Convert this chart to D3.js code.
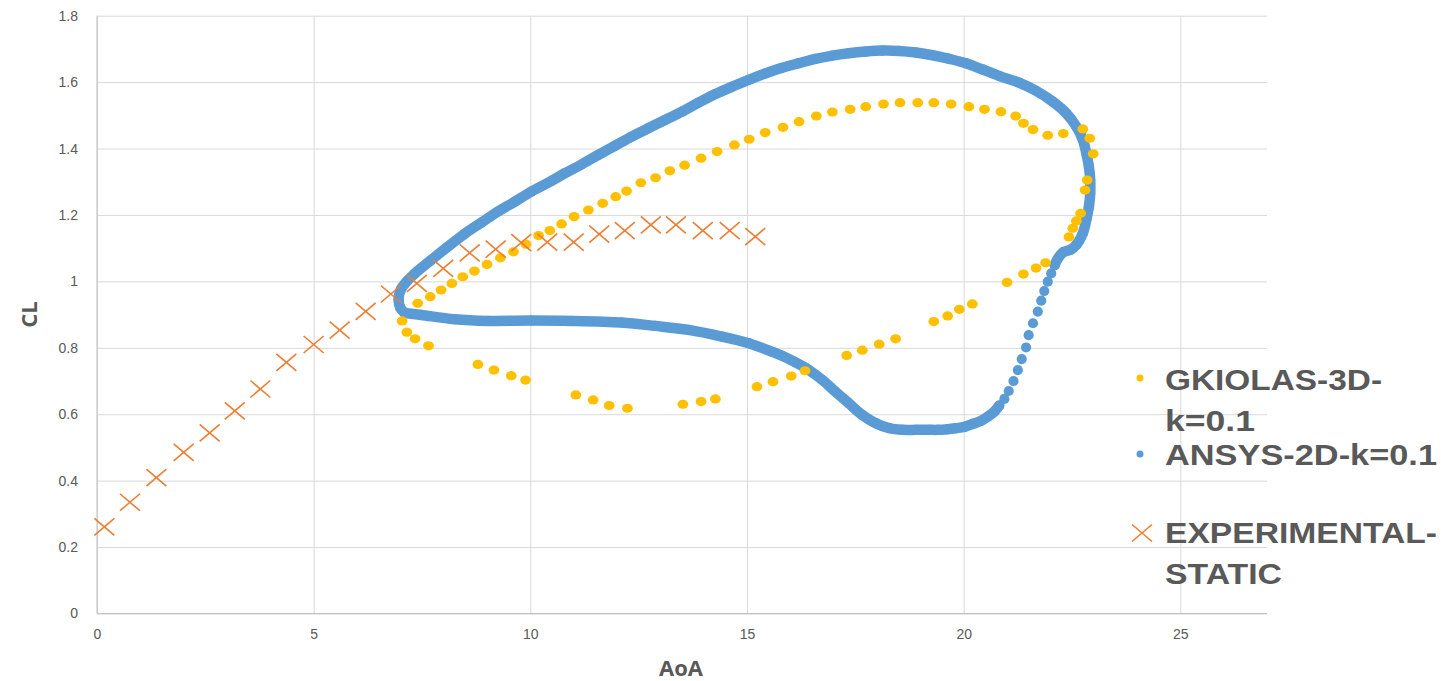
<!DOCTYPE html>
<html>
<head>
<meta charset="utf-8">
<script src="https://cdn.jsdelivr.net/npm/d3@7"></script>
<style>
  html, body { margin: 0; padding: 0; background: #fff; }
  svg { display: block; font-family: "Open Sans", "Liberation Sans", sans-serif; }
</style>
</head>
<body>
<svg id="chart" width="1455" height="681"></svg>
<script>
// GKIOLAS-3D-k=0.1 (AoA, CL), loop order
const gkiolas = [
  [7.40,0.934],[7.69,0.954],[7.94,0.974],[8.19,0.994],[8.44,1.014],[8.71,1.031],[9.00,1.051],[9.31,1.071],
  [9.61,1.089],[9.90,1.112],[10.19,1.138],[10.45,1.153],[10.72,1.173],[11.01,1.195],[11.34,1.215],[11.67,1.235],
  [11.97,1.255],[12.22,1.272],[12.55,1.297],[12.89,1.312],[13.22,1.333],[13.56,1.350],[13.94,1.371],[14.31,1.391],
  [14.71,1.411],[15.05,1.428],[15.42,1.448],[15.83,1.464],[16.20,1.481],[16.60,1.498],[16.97,1.510],[17.38,1.518],
  [17.74,1.526],[18.15,1.534],[18.53,1.538],[18.94,1.538],[19.31,1.538],[19.71,1.534],[20.12,1.526],[20.48,1.518],
  [20.86,1.511],[21.20,1.498],[21.38,1.476],[21.60,1.457],[21.94,1.440],[22.30,1.445],[22.75,1.459],[22.91,1.431],
  [22.99,1.384],[22.85,1.305],[22.80,1.275],[22.70,1.205],[22.60,1.182],[22.52,1.160],[22.43,1.134],[21.89,1.056],
  [21.67,1.040],[21.38,1.022],[21.00,0.997],[20.20,0.932],[19.90,0.916],[19.63,0.896],[19.31,0.879],[18.43,0.827],
  [18.05,0.811],[17.66,0.793],[17.30,0.777],[16.34,0.731],[16.02,0.715],[15.60,0.698],[15.23,0.683],[14.27,0.646],
  [13.94,0.638],[13.52,0.630],[12.24,0.618],[11.82,0.626],[11.45,0.643],[11.05,0.658],[9.89,0.703],[9.56,0.716],
  [9.16,0.733],[8.79,0.750],[7.65,0.806],[7.34,0.827],[7.15,0.847],[7.04,0.881]
];

// ANSYS-2D-k=0.1, dense band over the top and round the right side
const ansysUpper = [
  [7.10,0.905],[7.00,0.920],[6.96,0.945],[7.01,0.975],[7.15,1.000],[7.32,1.022],[7.71,1.064],[8.09,1.104],
  [8.48,1.143],[8.87,1.177],[9.25,1.210],[9.64,1.240],[10.02,1.270],[10.41,1.297],[10.79,1.325],[11.18,1.352],
  [11.57,1.381],[11.95,1.408],[12.34,1.436],[12.72,1.461],[13.11,1.486],[13.50,1.511],[13.88,1.538],[14.27,1.564],
  [14.65,1.586],[15.04,1.607],[15.42,1.626],[15.81,1.643],[16.20,1.657],[16.58,1.670],[16.97,1.680],[17.35,1.687],
  [17.74,1.692],[18.12,1.695],[18.51,1.694],[18.90,1.689],[19.28,1.681],[19.67,1.670],[20.05,1.657],[20.44,1.638],
  [20.83,1.618],[21.29,1.598],[21.67,1.574],[22.06,1.541],[22.37,1.506],[22.60,1.466],[22.75,1.426],[22.83,1.386],
  [22.89,1.345],[22.92,1.305],[22.92,1.265],[22.89,1.225],[22.83,1.185],[22.75,1.145],[22.60,1.110],[22.46,1.095],
  [22.30,1.088],[22.18,1.070],[22.10,1.049]
];
// ANSYS, the separate dots falling down the right side
const ansysRise = [
  [22.02,1.024],[21.94,0.999],[21.86,0.971],[21.79,0.942],[21.71,0.909],[21.60,0.874],[21.50,0.838],[21.44,0.801],
  [21.34,0.766],[21.25,0.733],[21.15,0.700],[21.04,0.670],[20.94,0.646]
];
// ANSYS, dense band along the bottom back to the tip
const ansysLower = [
  [20.82,0.626],[20.71,0.608],[20.56,0.593],[20.40,0.580],[20.21,0.571],[20.02,0.562],[19.82,0.558],[19.63,0.555],
  [19.40,0.553],[19.21,0.553],[18.90,0.553],[18.59,0.553],[18.28,0.558],[17.97,0.573],[17.66,0.598],[17.35,0.633],
  [17.04,0.668],[16.74,0.703],[16.43,0.733],[16.12,0.756],[15.81,0.776],[15.58,0.788],[15.04,0.814],[14.42,0.834],
  [13.65,0.854],[12.88,0.866],[12.11,0.876],[10.95,0.881],[10.02,0.882],[9.02,0.881],[8.25,0.886],[7.48,0.899],
  [7.10,0.905]
];

// EXPERIMENTAL-STATIC
const experimental = [
  [0.17,0.261],[0.76,0.335],[1.37,0.409],[2.00,0.485],[2.60,0.544],[3.18,0.610],[3.77,0.676],[4.37,0.756],
  [5.00,0.810],[5.60,0.853],[6.20,0.910],[6.78,0.962],[7.38,0.994],[7.99,1.039],[8.60,1.086],[9.20,1.097],
  [9.79,1.117],[10.39,1.118],[11.00,1.118],[11.59,1.142],[12.18,1.153],[12.78,1.170],[13.36,1.170],[13.98,1.153],
  [14.60,1.153],[15.19,1.135]
];

const xTicks = [0, 5, 10, 15, 20, 25];
const yTicks = [0, 0.2, 0.4, 0.6, 0.8, 1, 1.2, 1.4, 1.6, 1.8];

const legendItems = [
  { name: "GKIOLAS-3D-k=0.1", lines: ["GKIOLAS-3D-", "k=0.1"], widths: [217, 90], kind: "dot", color: "#FFC000" },
  { name: "ANSYS-2D-k=0.1", lines: ["ANSYS-2D-k=0.1"], widths: [272], kind: "dot", color: "#5B9BD5" },
  { name: "EXPERIMENTAL-STATIC", lines: ["EXPERIMENTAL-", "STATIC"], widths: [272, 117], kind: "x", color: "#ED7D31" }
];

const svg = d3.select("#chart");
const plotLeft = 97, plotRight = 1267, plotTop = 15.7, plotBottom = 613.5;

const x = d3.scaleLinear().domain([0, 27]).range([plotLeft, plotRight]);
const y = d3.scaleLinear().domain([0, 1.8]).range([plotBottom, plotTop]);

// gridlines + tick labels
const yAxis = svg.append("g")
  .attr("transform", `translate(${plotLeft},0)`)
  .call(d3.axisLeft(y).tickValues(yTicks).tickSize(-(plotRight - plotLeft)).tickPadding(19).tickFormat(d3.format("~g")));
yAxis.select(".domain").remove();
yAxis.selectAll("line").attr("stroke", "#d9d9d9");
yAxis.selectAll("text").attr("fill", "#595959").style("font-size", "14px");

const xAxis = svg.append("g")
  .attr("transform", `translate(0,${plotBottom})`)
  .call(d3.axisBottom(x).tickValues(xTicks).tickSize(-(plotBottom - plotTop)).tickPadding(16).tickFormat(d3.format("~g")));
xAxis.select(".domain").remove();
xAxis.selectAll("line").attr("stroke", "#d9d9d9");
xAxis.selectAll("text").attr("fill", "#595959").style("font-size", "14px");

// axis lines
svg.append("line").attr("x1", plotLeft).attr("x2", plotLeft).attr("y1", plotTop).attr("y2", plotBottom).attr("stroke", "#bfbfbf");
svg.append("line").attr("x1", plotLeft).attr("x2", plotRight).attr("y1", plotBottom).attr("y2", plotBottom).attr("stroke", "#bfbfbf");

// axis titles
svg.append("text")
  .attr("transform", `translate(37,${(plotTop + plotBottom) / 2}) rotate(-90)`)
  .attr("text-anchor", "middle")
  .attr("fill", "#595959")
  .style("font-size", "22px").style("font-weight", "bold")
  .text("CL");
svg.append("text")
  .attr("x", 681).attr("y", 676)
  .attr("text-anchor", "middle")
  .attr("fill", "#595959")
  .style("font-size", "22px").style("font-weight", "bold")
  .text("AoA");

const plot = svg.append("g");
const blue = "#5B9BD5";

// ANSYS: dense stretches read as a thick band of dots
const band = d3.line().x(d => x(d[0])).y(d => y(d[1])).curve(d3.curveCatmullRom);
[ansysUpper, ansysLower].forEach(seg => {
  plot.append("path")
    .attr("d", band(seg))
    .attr("fill", "none")
    .attr("stroke", blue)
    .attr("stroke-width", 10.5)
    .attr("stroke-linecap", "round")
    .attr("stroke-linejoin", "round");
});
plot.selectAll(".ansys")
  .data(ansysUpper.concat(ansysRise, ansysLower))
  .join("circle")
  .attr("class", "ansys")
  .attr("cx", d => x(d[0]))
  .attr("cy", d => y(d[1]))
  .attr("r", 5.1)
  .attr("fill", blue);

// GKIOLAS dots
plot.selectAll(".gk")
  .data(gkiolas)
  .join("ellipse")
  .attr("class", "gk")
  .attr("cx", d => x(d[0]))
  .attr("cy", d => y(d[1]))
  .attr("rx", 5.4)
  .attr("ry", 4.6)
  .attr("fill", "#FFC000");

// experimental crosses
const xMark = (hw, hh) => `M${-hw},${-hh}L${hw},${hh}M${-hw},${hh}L${hw},${-hh}`;
plot.selectAll(".exp")
  .data(experimental)
  .join("path")
  .attr("class", "exp")
  .attr("transform", d => `translate(${x(d[0])},${y(d[1])})`)
  .attr("d", xMark(10, 8.5))
  .attr("fill", "none")
  .attr("stroke", "#ED7D31")
  .attr("stroke-width", 1.6);

// legend
const legend = svg.append("g").style("font-family", "'Liberation Sans', Arial, sans-serif");
const markerY = [378, 454, 533];
const textY = [[390, 431], [465], [543, 584]];
legendItems.forEach((item, i) => {
  if (item.kind === "dot") {
    legend.append("circle").attr("cx", 1140).attr("cy", markerY[i]).attr("r", 3.5).attr("fill", item.color);
  } else {
    legend.append("path")
      .attr("transform", `translate(1142,${markerY[i]})`)
      .attr("d", xMark(10, 8.5))
      .attr("fill", "none")
      .attr("stroke", item.color)
      .attr("stroke-width", 1.6);
  }
  item.lines.forEach((line, j) => {
    legend.append("text")
      .attr("x", 1165).attr("y", textY[i][j])
      .attr("fill", "#595959")
      .attr("textLength", item.widths[j])
      .attr("lengthAdjust", "spacingAndGlyphs")
      .style("font-size", "29px").style("font-weight", "bold")
      .text(line);
  });
});
</script>
</body>
</html>
